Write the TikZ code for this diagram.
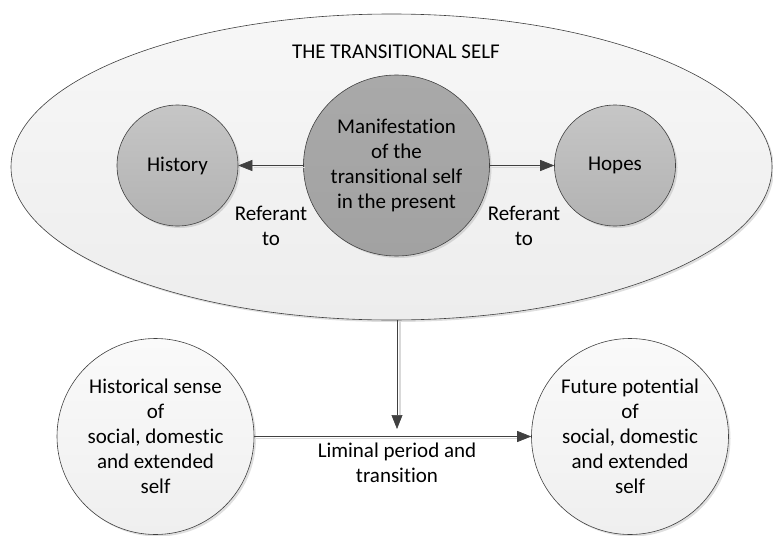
\documentclass[tikz,border=0pt]{standalone}
\usepackage{fontspec}
\setmainfont{Carlito}[Ligatures={NoCommon,NoContextual},RawFeature={-liga;-clig;-dlig;-calt}]
\usetikzlibrary{shapes.geometric,arrows.meta,shadows}
\definecolor{edgegray}{HTML}{404040}
\definecolor{bigtop}{HTML}{F7F7F7}
\definecolor{bigbot}{HTML}{EDEDED}
\definecolor{midtop}{HTML}{C6C6C6}
\definecolor{midbot}{HTML}{B2B2B2}
\definecolor{cenfill}{HTML}{A9A9A9}
\definecolor{cenbot}{HTML}{A2A2A2}
\definecolor{lowtop}{HTML}{FAFAFA}
\definecolor{lowbot}{HTML}{EFEFEF}
\tikzset{
  base/.style={ellipse, draw=edgegray, line width=0.6pt, inner sep=0pt, align=center,
    font=\fontsize{21}{25}\selectfont,
    drop shadow={shadow xshift=2pt, shadow yshift=-2pt, opacity=0.25, fill=gray}},
  bigell/.style={base, minimum width=761pt, minimum height=306pt, top color=bigtop, bottom color=bigbot},
  sidecirc/.style={base, minimum width=121pt, minimum height=121pt, top color=midtop, bottom color=midbot},
  cencirc/.style={base, minimum width=181pt, minimum height=181pt, top color=cenfill, bottom color=cenbot},
  lowcirc/.style={base, minimum width=197pt, minimum height=196pt, top color=lowtop, bottom color=lowbot},
  lbl/.style={align=center, inner sep=0pt, font=\fontsize{21}{25}\selectfont},
  conn/.style={draw=edgegray, line width=0.6pt, -{Triangle[length=14pt,width=11pt]}},
  connshadow/.style={draw=black!15, line width=1.2pt}
}
\begin{document}
\begin{tikzpicture}[x=1pt,y=1pt]
\useasboundingbox (0,0) rectangle (773,-535);
\node[bigell] (big) at (391.5,-167) {};
\node[lbl] (title) at (396,-52) {THE TRANSITIONAL SELF};
\node[sidecirc] (hist) at (177.5,-165.5) {History};
\node[cencirc] (man) at (396.5,-165.5) {Manifestation\\of the\\transitional self\\in the present};
\node[sidecirc] (hope) at (615,-165.5) {Hopes};
\node[lbl] (refl) at (271,-225.5) {Referant\\to};
\node[lbl] (refr) at (524,-225.5) {Referant\\to};
\node[lowcirc] (hs) at (155.5,-436.5) {Historical sense\\of\\social, domestic\\and extended\\self};
\node[lowcirc] (fp) at (630,-436.5) {Future potential\\of\\social, domestic\\and extended\\self};
\node[lbl] (lim) at (397,-462.5) {Liminal period and\\transition};
\coordinate (vtop) at (397,-320);
\coordinate (vbot) at (397,-429);
\path[connshadow] ([xshift=2pt,yshift=-2pt]man.west) -- ([xshift=16pt,yshift=-2pt]hist.east);
\path[connshadow] ([xshift=2pt,yshift=-2pt]man.east) -- ([xshift=-12pt,yshift=-2pt]hope.west);
\path[connshadow] ([xshift=3pt,yshift=-1pt]vtop) -- ([xshift=3pt,yshift=14pt]vbot);
\path[connshadow] ([xshift=2pt,yshift=-2pt]hs.east) -- ([xshift=-12pt,yshift=-2pt]fp.west);
\draw[conn] (man.west) -- (hist.east);
\draw[conn] (man.east) -- (hope.west);
\draw[conn] (vtop) -- (vbot);
\draw[conn] (hs.east) -- (fp.west);
\end{tikzpicture}
\end{document}
